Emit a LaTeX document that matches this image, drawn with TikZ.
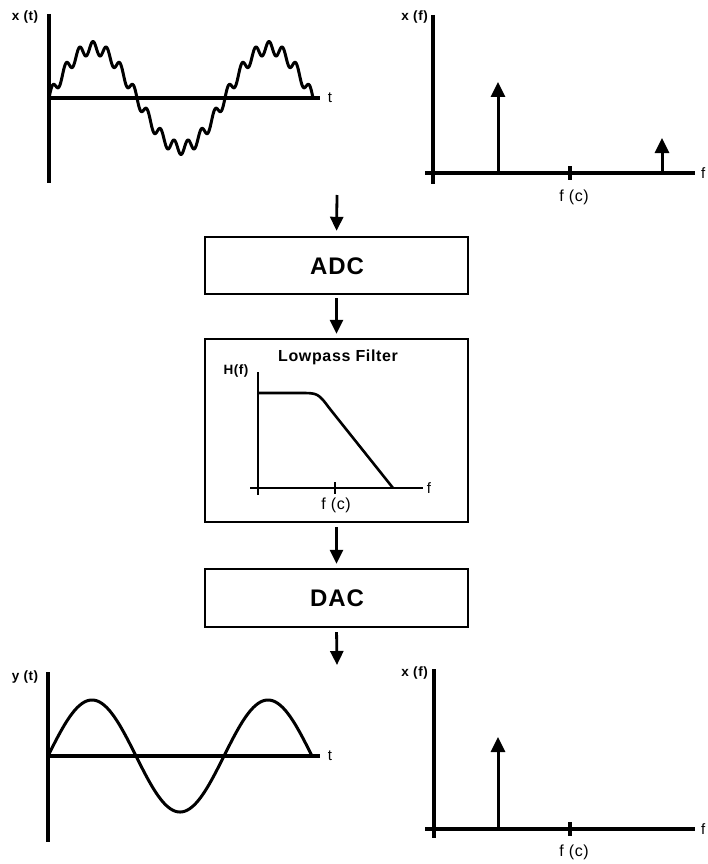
\documentclass[tikz,border=0pt]{standalone}
\usepackage{fontspec}
\setmainfont{Liberation Sans}
\newfontfamily\lsfont{Liberation Sans}[LetterSpace=4]
\newfontfamily\bigfont{Liberation Sans}[LetterSpace=4]
\usetikzlibrary{arrows.meta}
\begin{document}
\begin{tikzpicture}[x=1pt,y=-1pt,
  axis/.style={line width=3.4pt},
  thinaxis/.style={line width=2.6pt},
  wave/.style={line width=3pt,line join=round,line cap=round},
  box/.style={draw,line width=2.4pt,minimum width=263pt,inner sep=0pt},
  flow/.style={line width=2.8pt,-{Triangle[length=14pt,width=13pt]}},
  spike/.style={line width=3pt,-{Triangle[length=15pt,width=14pt]}},
  lbl/.style={inner sep=0pt,font=\lsfont\bfseries\fontsize{13.5}{13.5}\selectfont},
  fc/.style={inner sep=0pt,font=\lsfont\fontsize{16}{16}\selectfont},
  ax/.style={inner sep=0pt,font=\lsfont\fontsize{15}{15}\selectfont},
  blk/.style={inner sep=0pt,font=\bigfont\bfseries\fontsize{24}{24}\selectfont}]
\useasboundingbox (0,0) rectangle (708,864);
\fill[white] (0,0) rectangle (708,864);

% ---------- top left: x(t) ----------
\draw[axis] (49,14) -- (49,183);
\draw[axis] (47.3,98) -- (320,98);
\draw[wave] plot[domain=0:264,samples=800] ({49+\x},{98-50*sin(\x*2.045454)-6.5*sin(\x*26.590909)});
\node[lbl] (xt) at (25,17) {x (t)};
\node[ax] (tt) at (330,98) {t};

% ---------- top right: x(f) ----------
\draw[axis] (433,15) -- (433,184);
\draw[axis] (425,173) -- (695,173);
\draw[axis] (570,166) -- (570,180);
\draw[spike] (498,173) -- (498,82);
\draw[spike] (662,173) -- (662,138);
\node[lbl,anchor=east] (xf1) at (428,17) {x (f)};
\node[fc] (fc1) at (574,197) {f (c)};
\node[ax,anchor=west] (f1) at (701,173) {f};

% ---------- blocks ----------
\coordinate (in) at (337,195);
\node[box,minimum height=57pt] (adc) at (336.5,265.5) {};
\node[blk] (adct) at (337,266) {ADC};
\node[box,minimum height=183pt] (filt) at (336.5,430.5) {};
\node[box,minimum height=58pt] (dac) at (336.5,598) {};
\node[blk] (dact) at (337,598) {DAC};
\coordinate (out) at (337,665);

\draw[flow,shorten >=5pt] (in) -- (adc.north);
\draw[flow,shorten <=3pt,shorten >=4pt] (adc.south) -- (filt.north);
\draw[flow,shorten <=4pt,shorten >=4pt] (filt.south) -- (dac.north);
\draw[flow,shorten <=4pt] (dac.south) -- (out);

% ---------- filter contents ----------
\node[lbl,font=\lsfont\bfseries\fontsize{16}{16}\selectfont] (lpf) at (338,357) {Lowpass Filter};
\node[lbl] (hf) at (236,371) {H(f)};
\draw[thinaxis] (258,372) -- (258,495);
\draw[thinaxis] (250,488) -- (423,488);
\draw[thinaxis] (335,482) -- (335,494);
\draw[line width=2.6pt,line join=round] (258,393) -- (300,393) .. controls (318,393) .. (330,409) -- (393,488);
\node[fc] (fc2) at (336,505) {f (c)};
\node[ax] (f2) at (429,488) {f};

% ---------- bottom left: y(t) ----------
\draw[axis] (48,672) -- (48,842);
\draw[axis] (46.3,756) -- (320,756);
\draw[wave] plot[domain=0:264,samples=300] ({48+\x},{756-56*sin(\x*2.045454)});
\node[lbl] (yt) at (25,677) {y (t)};
\node[ax] (tb) at (330,756) {t};

% ---------- bottom right: x(f) ----------
\draw[axis] (434,669) -- (434,838);
\draw[axis] (425,829) -- (695,829);
\draw[axis] (570,822) -- (570,836);
\draw[spike] (498,829) -- (498,737);
\node[lbl,anchor=east] (xf2) at (428,673) {x (f)};
\node[fc] (fc3) at (574,852) {f (c)};
\node[ax,anchor=west] (f3) at (701,829) {f};
\end{tikzpicture}
\end{document}
